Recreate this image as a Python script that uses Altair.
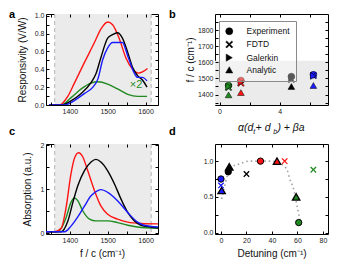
import altair as alt
import pandas as pd

FONT = "Liberation Sans"
GREEN, RED, BLACK, BLUE = "#1f8a1f", "#ff1414", "#000000", "#1a1aff"
series_names = ["green", "red", "black", "blue"]
series_colors = [GREEN, RED, BLACK, BLUE]
X_PATH = "M-1,-0.72L-0.72,-1L0,-0.28L0.72,-1L1,-0.72L0.28,0L1,0.72L0.72,1L0,0.28L-0.72,1L-1,0.72L-0.28,0Z"

# ---------- panel a: responsivity ----------
a_red_x = [1345, 1373, 1395, 1412, 1439, 1465, 1482, 1500, 1513, 1531, 1548, 1566, 1581, 1592, 1605]
a_red_y = [0, 0, 0.10, 0.245, 0.48, 0.70, 0.85, 0.93, 0.90, 0.74, 0.53, 0.40, 0.357, 0.37, 0.41]
a_black_x = [1345, 1377, 1404, 1430, 1456, 1469, 1482, 1500, 1513, 1526, 1539, 1553, 1566, 1579, 1592, 1604]
a_black_y = [0, 0, 0.05, 0.13, 0.25, 0.35, 0.53, 0.75, 0.79, 0.81, 0.75, 0.59, 0.42, 0.33, 0.28, 0.20]
a_blue_x = [1345, 1386, 1412, 1439, 1461, 1474, 1487, 1500, 1513, 1526, 1539, 1553, 1570, 1579, 1592, 1604]
a_blue_y = [0, 0, 0.05, 0.13, 0.20, 0.29, 0.51, 0.64, 0.70, 0.70, 0.70, 0.55, 0.36, 0.31, 0.31, 0.27]
a_green_x = [1345, 1377, 1404, 1430, 1456, 1474, 1500, 1526, 1553, 1579, 1604]
a_green_y = [0, 0, 0.085, 0.18, 0.245, 0.26, 0.235, 0.18, 0.12, 0.097, 0.097]

# ---------- panel c: absorption ----------
c_red_x = [1337, 1359, 1377, 1390, 1403, 1412, 1423, 1434, 1447, 1465, 1482, 1500, 1526, 1553, 1588, 1633]
c_red_y = [0.03, 0.03, 0.11, 0.58, 1.35, 1.70, 1.83, 1.74, 1.43, 0.97, 0.62, 0.43, 0.32, 0.25, 0.22, 0.21]
c_black_x = [1337, 1377, 1395, 1408, 1421, 1439, 1456, 1469, 1482, 1500, 1518, 1535, 1553, 1570, 1588, 1614, 1633]
c_black_y = [0.03, 0.03, 0.28, 0.70, 1.08, 1.43, 1.62, 1.68, 1.62, 1.42, 1.12, 0.78, 0.47, 0.28, 0.18, 0.14, 0.12]
c_blue_x = [1337, 1386, 1403, 1421, 1439, 1456, 1474, 1482, 1500, 1526, 1553, 1579, 1596, 1633]
c_blue_y = [0.03, 0.03, 0.16, 0.37, 0.62, 0.85, 0.97, 0.99, 0.93, 0.74, 0.47, 0.25, 0.18, 0.14]
c_green_x = [1337, 1365, 1373, 1390, 1403, 1412, 1421, 1434, 1452, 1469, 1500, 1526, 1553, 1579, 1633]
c_green_y = [0.03, 0.03, 0.06, 0.35, 0.70, 0.80, 0.74, 0.51, 0.32, 0.28, 0.28, 0.24, 0.18, 0.14, 0.11]

shade_f = [1360, 1615]
note_a = {"x": [1575], "y": [0.22], "t": ["×2"]}

# ---------- panel b: frequencies vs geometry ----------
methods = ["Experiment", "FDTD", "Galerkin", "Analytic"]
b_geom = [0.6, 1.42, 4.77, 6.23]
b_exp = [1456, 1487, 1512, 1523]
b_fdtd = [1444, 1471, 1495, 1518]
b_gal = [1450, 1478, 1500, 1515]
b_ana = [1398, 1412, 1450, 1456]
shade_b = [1335, 1610]

# ---------- panel d: detuning ----------
d_exp_x = [0, 5.7, 31, 61]
d_exp_y = [0.75, 0.85, 1.0, 0.14]
d_fdtd_x = [0, 20, 50, 72.5]
d_fdtd_y = [0.66, 0.82, 1.0, 0.88]
d_ana_x = [0.5, 6.5, 44, 59]
d_ana_y = [0.59, 0.92, 1.0, 0.5]
d_curve_x = [0.5, 2.6, 5, 8.4, 14.4, 22, 31, 38, 44, 48, 52, 54, 57, 60, 63]
d_curve_y = [0.47, 0.63, 0.80, 0.92, 0.96, 1.0, 1.0, 1.0, 0.99, 0.95, 0.87, 0.75, 0.61, 0.35, 0.09]

color_scale = alt.Scale(domain=series_names, range=series_colors)


def main_axis(values, title=None, label_expr=None, title_pad=6):
    kw = dict(values=values, offset=-3, tickSize=3, domain=False, grid=False,
              labelPadding=2, zindex=1, labelFlush=False, labelOverlap=False,
              titlePadding=title_pad, title=title)
    if label_expr is not None:
        kw["labelExpr"] = label_expr
    return alt.Axis(**kw)


def mirror_axis(values, orient):
    return alt.Axis(values=values, orient=orient, offset=-3, tickSize=3, domain=False,
                    grid=False, labels=False, title=None, zindex=1)


def mirror_layer(xs, ys, xvals, yvals):
    df = pd.DataFrame({"x": [xs.domain[0]], "y": [ys.domain[0]]})
    return alt.Chart(df).mark_point(opacity=0).encode(
        x=alt.X("x:Q", scale=xs, axis=mirror_axis(xvals, "top")),
        y=alt.Y("y:Q", scale=ys, axis=mirror_axis(yvals, "right")),
    )


def letter(t, dx, dy):
    return alt.Chart(pd.DataFrame({"t": [t]})).mark_text(
        align="left", baseline="top", font=FONT, fontSize=11, fontWeight="bold"
    ).encode(x=alt.value(dx), y=alt.value(dy), text="t:N")


def lines_df(xs_list, ys_list):
    rows = []
    for name, xs, ys in zip(series_names, xs_list, ys_list):
        for xv, yv in zip(xs, ys):
            rows.append({"f": xv, "v": yv, "series": name})
    return pd.DataFrame(rows)


HUNDREDS = "datum.value % 100 == 0 ? format(datum.value, 'd') : ''"


def spectrum_panel(df, ydom, yvals, ylabel_expr, ytitle, xtitle, w, h, title_pad, letter_t, extra=None):
    xs = alt.Scale(domain=[1337, 1633], nice=False, zero=False)
    ys = alt.Scale(domain=ydom, nice=False, zero=False)
    xvals = [1350, 1400, 1450, 1500, 1550, 1600]
    sdf = pd.DataFrame({"x0": [shade_f[0]], "x1": [shade_f[1]]})
    shade = alt.Chart(sdf).mark_rect(color="#ebebeb").encode(
        x=alt.X("x0:Q", scale=xs, axis=None), x2="x1:Q",
        y=alt.value(0), y2=alt.value(h))
    rdf = pd.DataFrame({"x": shade_f})
    rules = alt.Chart(rdf).mark_rule(color="#b5b5b5", strokeDash=[4, 3], strokeWidth=1).encode(
        x=alt.X("x:Q", scale=xs, axis=None))
    lines = alt.Chart(df).mark_line(strokeWidth=1.4, interpolate="monotone", clip=True).encode(
        x=alt.X("f:Q", scale=xs, axis=main_axis(xvals, title=xtitle, label_expr=HUNDREDS, title_pad=5)),
        y=alt.Y("v:Q", scale=ys, axis=main_axis(yvals, title=ytitle, label_expr=ylabel_expr,
                title_pad=title_pad)),
        color=alt.Color("series:N", scale=color_scale, legend=None),
    )
    layers = [shade, rules, lines]
    if extra is not None:
        layers.append(extra(xs, ys))
    layers.append(mirror_layer(xs, ys, xvals, yvals))
    layers.append(letter(letter_t, -37, -5 if letter_t == "a" else -18))
    return alt.layer(*layers).resolve_axis(x="independent", y="independent").properties(width=w, height=h)


def note_layer(xs, ys):
    return alt.Chart(pd.DataFrame(note_a)).mark_text(
        color=GREEN, font=FONT, fontSize=11, align="center", baseline="middle"
    ).encode(x=alt.X("x:Q", scale=xs, axis=None), y=alt.Y("y:Q", scale=ys, axis=None), text="t:N")


W1, W2, H1, H2 = 112, 113, 91, 90
COL_SP, ROW_SP = 57, 39

panel_a = spectrum_panel(
    lines_df([a_green_x, a_red_x, a_black_x, a_blue_x], [a_green_y, a_red_y, a_black_y, a_blue_y]),
    [0, 1.02], [round(i * 0.1, 1) for i in range(11)],
    "round(datum.value*10) % 2 == 0 ? format(datum.value, '.1f') : ''",
    "Responsivity (V/W)", None, W1, H1, 7, "a", extra=note_layer)

panel_c = spectrum_panel(
    lines_df([c_green_x, c_red_x, c_black_x, c_blue_x], [c_green_y, c_red_y, c_black_y, c_blue_y]),
    [-0.02, 2.03], [0, 0.5, 1, 1.5, 2],
    "datum.value % 1 == 0 ? format(datum.value, 'd') : ''",
    "Absorption (a.u.)", "f / c (cm⁻¹)", W1, H2, 8, "c")

# ---------- panel b ----------
b_rows = []
for m, vals in zip(methods, [b_exp, b_fdtd, b_gal, b_ana]):
    for s, g, v in zip(series_names, b_geom, vals):
        b_rows.append({"g": g, "f": v, "series": s, "method": m})
b_df = pd.DataFrame(b_rows)
bxs = alt.Scale(domain=[-0.3, 7.2], nice=False, zero=False)
bys = alt.Scale(domain=[1335, 1900], nice=False, zero=False)
bx_vals = [0, 2, 4, 6]
by_vals = [1350, 1400, 1450, 1500, 1550, 1600, 1650, 1700, 1750, 1800, 1850]
b_shade = alt.Chart(pd.DataFrame({"y0": [shade_b[0]], "y1": [shade_b[1]]})).mark_rect(
    color="#ebebeb", clip=True).encode(
    x=alt.value(0), x2=alt.value(W2),
    y=alt.Y("y0:Q", scale=bys, axis=None), y2="y1:Q")
b_points = alt.Chart(b_df).mark_point(filled=True, stroke="black", strokeWidth=0.5, opacity=1, size=45).encode(
    x=alt.X("g:Q", scale=bxs, axis=main_axis(bx_vals, label_expr="datum.value % 4 == 0 ? datum.label : ''")),
    y=alt.Y("f:Q", scale=bys, axis=main_axis(by_vals, title="f / c (cm⁻¹)", label_expr=HUNDREDS, title_pad=2)),
    fill=alt.Color("series:N", scale=color_scale, legend=None),
    shape=alt.Shape("method:N", scale=alt.Scale(domain=methods,
                    range=["circle", X_PATH, "triangle-right", "triangle-up"]),
                    legend=alt.Legend(title=None, orient="none", legendX=W1 + COL_SP + 4, legendY=7,
                                      fillColor="rgba(255,255,255,0.35)", strokeColor="#8a8a8a",
                                      padding=6, labelFont=FONT, labelFontSize=8.5, labelColor="#111",
                                      symbolSize=50, rowPadding=3.2, labelOffset=13,
                                      symbolFillColor="black", symbolStrokeColor="black",
                                      symbolStrokeWidth=0.5)),
)
pieces = pd.DataFrame({
    "t": ["α(d", "t", " + d", "b", ") + βa"],
    "px": [23, 38.2, 40.6, 58.2, 62.4],
    "py": [117, 120, 117, 120, 117],
    "fs": [10.5, 7, 10.5, 7, 10.5],
})
b_title = alt.Chart(pieces).mark_text(
    align="left", baseline="alphabetic", font=FONT, fontStyle="italic", color="#111"
).encode(x=alt.X("px:Q", scale=None, axis=None), y=alt.Y("py:Q", scale=None, axis=None),
         text="t:N", size=alt.Size("fs:Q", scale=None, legend=None))
panel_b = alt.layer(
    b_shade, b_points, mirror_layer(bxs, bys, bx_vals, by_vals), b_title, letter("b", -46, -5)
).resolve_axis(x="independent", y="independent").properties(width=W2, height=H1)

# ---------- panel d ----------
dxs = alt.Scale(domain=[-4.7, 84], nice=False, zero=False)
dys = alt.Scale(domain=[-0.02, 1.24], nice=False, zero=False)
dx_vals = [0, 20, 40, 60, 80]
dy_vals = [0, 0.25, 0.5, 0.75, 1.0]
d_curve = alt.Chart(pd.DataFrame({"x": d_curve_x, "y": d_curve_y})).mark_line(
    color="#a0a0a0", strokeDash=[1.5, 3], strokeWidth=1.6, interpolate="monotone").encode(
    x=alt.X("x:Q", scale=dxs, axis=main_axis(dx_vals, title="Detuning (cm⁻¹)", title_pad=5)),
    y=alt.Y("y:Q", scale=dys, axis=main_axis(dy_vals, label_expr="round(datum.value*4) % 2 == 0 ? format(datum.value, '.1f') : ''")),
)


def d_points(xs_, ys_, shape, size, stroke_w):
    df = pd.DataFrame({"x": xs_, "y": ys_, "series": ["blue", "black", "red", "green"]})
    kw = dict(filled=True, size=size, shape=shape, opacity=1)
    if stroke_w > 0:
        kw.update(stroke="black", strokeWidth=stroke_w)
    return alt.Chart(df).mark_point(**kw).encode(
        x=alt.X("x:Q", scale=dxs, axis=None), y=alt.Y("y:Q", scale=dys, axis=None),
        fill=alt.Color("series:N", scale=color_scale, legend=None))


panel_d = alt.layer(
    d_curve,
    d_points(d_ana_x, d_ana_y, "triangle-up", 55, 1.3),
    d_points(d_exp_x, d_exp_y, "circle", 40, 1),
    d_points(d_fdtd_x, d_fdtd_y, X_PATH, 40, 0),
    mirror_layer(dxs, dys, dx_vals, dy_vals),
    letter("d", -46, -18),
).resolve_axis(x="independent", y="independent").properties(width=W2, height=H2)

chart = alt.concat(panel_a, panel_b, panel_c, panel_d, columns=2, bounds="flush",
                   spacing={"row": ROW_SP, "column": COL_SP}).properties(padding=0).configure_view(
    stroke="black", strokeWidth=1
).configure_axis(
    labelFont=FONT, titleFont=FONT, labelFontSize=7, titleFontSize=10,
    labelColor="#222", titleColor="#111", tickColor="black", titleFontWeight="normal"
)

chart.save("out.html", embed_options={"renderer": "svg", "actions": False})
